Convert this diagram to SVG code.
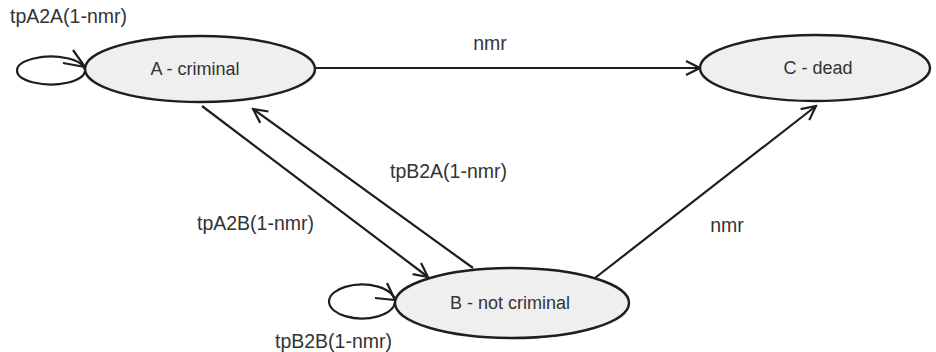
<svg xmlns="http://www.w3.org/2000/svg" width="936" height="352" viewBox="0 0 936 352">
<style>
.node ellipse{fill:#efefef;stroke:#1e1e1e;stroke-width:2.4}
.node text{font-family:"Liberation Sans",Arial,sans-serif;font-size:18px;fill:#333;text-anchor:middle}
.edge{stroke:#1e1e1e;stroke-width:2.2;fill:none}
.lbl{font-family:"Liberation Sans",Arial,sans-serif;font-size:19.5px;fill:#333}
</style>
<defs>
<marker id="arr" markerUnits="userSpaceOnUse" markerWidth="18" markerHeight="18" viewBox="0 0 18 18" refX="16" refY="9" orient="auto">
<path d="M2,2 L16,9 L2,16" fill="none" stroke="#1e1e1e" stroke-width="2.2"/>
</marker>
</defs>
<g id="connectors">
<path class="edge" d="M85,71 A34,14 0 1 1 85,70"/>
<path class="edge" d="M73,50 L85,67 L63,63"/>
<path class="edge" d="M395,302 A33,17 0 1 1 395,301"/>
<path class="edge" d="M387,283 L395,300 L375,298"/>
<line class="edge" x1="315" y1="68" x2="700" y2="68" marker-end="url(#arr)"/>
<line class="edge" x1="202" y1="106" x2="428" y2="277" marker-end="url(#arr)"/>
<line class="edge" x1="473" y1="268" x2="253" y2="109" marker-end="url(#arr)"/>
<line class="edge" x1="595" y1="278" x2="816" y2="106" marker-end="url(#arr)"/>
</g>
<g id="labels">
<text class="lbl" x="10" y="23">tpA2A(1-nmr)</text>
<text class="lbl" x="490" y="50" text-anchor="middle">nmr</text>
<text class="lbl" x="390" y="178">tpB2A(1-nmr)</text>
<text class="lbl" x="197" y="230">tpA2B(1-nmr)</text>
<text class="lbl" x="727" y="232" text-anchor="middle">nmr</text>
<text class="lbl" x="275" y="348">tpB2B(1-nmr)</text>
</g>
<g id="nodeA" class="node">
<ellipse cx="200" cy="69" rx="115" ry="33"/>
<text x="195" y="75">A - criminal</text>
</g>
<g id="nodeC" class="node">
<ellipse cx="815" cy="68" rx="115" ry="33"/>
<text x="818" y="74">C - dead</text>
</g>
<g id="nodeB" class="node">
<ellipse cx="512" cy="303" rx="117" ry="35"/>
<text x="510" y="309">B - not criminal</text>
</g>
</svg>
